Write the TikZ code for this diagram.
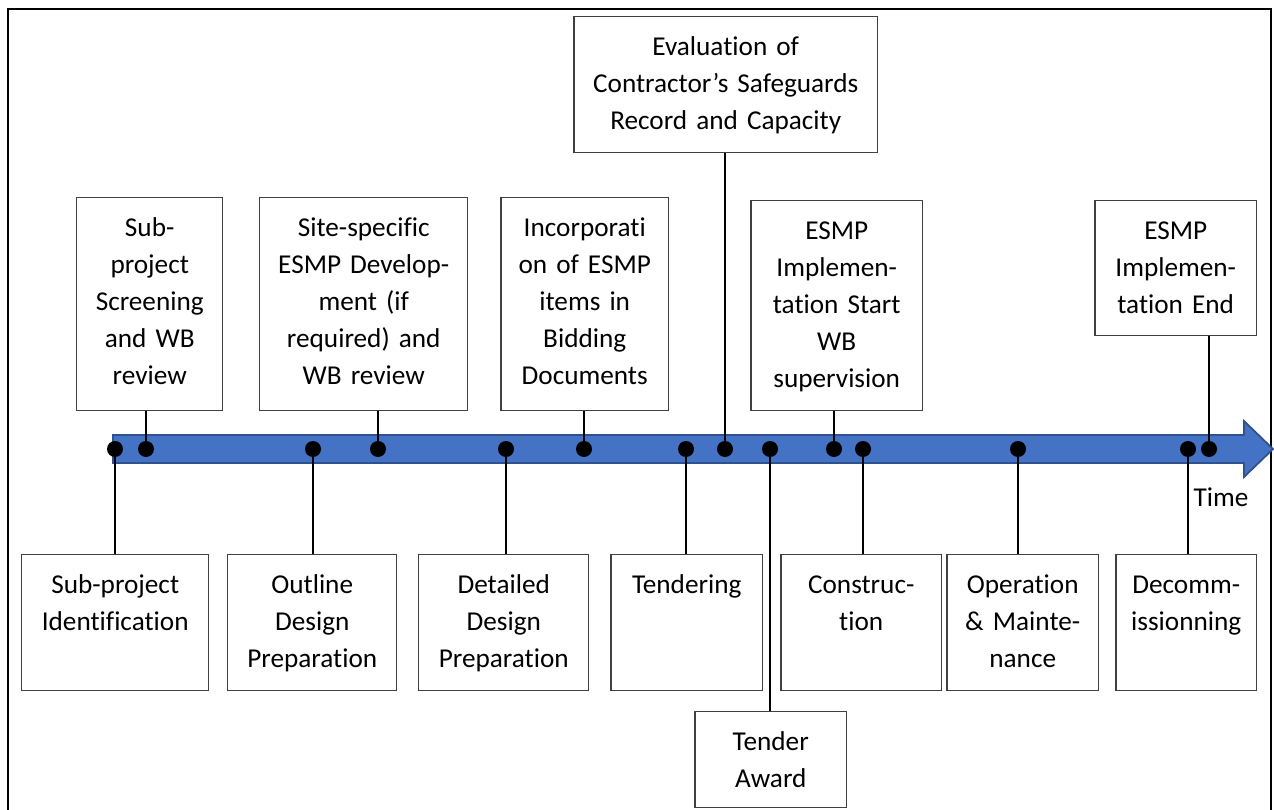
\documentclass[tikz,border=0pt]{standalone}
\usepackage{fontspec}
\setmainfont[Ligatures=NoCommon]{Carlito}
\usetikzlibrary{calc}
\definecolor{arrowblue}{HTML}{4472C4}
\definecolor{arrowedge}{HTML}{2F528F}
\definecolor{boxgray}{HTML}{404040}
\tikzset{
  stage/.style n args={2}{draw=boxgray, line width=0.85pt, anchor=north west,
    align=center, inner xsep=0pt, inner ysep=0pt, text width=#1cm,
    text height=0.78cm, text depth=#2cm,
    font=\fontsize{15.5}{21}\selectfont},
  dot/.style={circle, fill=black, inner sep=0pt, minimum size=0.32cm},
  link/.style={line width=0.75pt}
}
\begin{document}
\begin{tikzpicture}[x=0.02cm, y=-0.02cm]
      \useasboundingbox (0,0) rectangle (1274,810);

      % frame
      \draw[line width=1.4pt] (8,810) -- (8,9) -- (1271,9) -- (1271,810);

      % time axis
      \filldraw[fill=arrowblue, draw=arrowedge, line width=1pt]
        (113,435) -- (1244,435) -- (1244,421) -- (1273,449)
        -- (1244,477) -- (1244,463) -- (113,463) -- cycle;
      \node[font=\fontsize{15.5}{21}\selectfont] (time) at (1221,497) {Time};

      % stages above the axis
      \node[stage={2.92}{3.48}] (scr) at (76,197) {Sub-\\project\\Screening\\and WB\\review};
      \node[stage={4.16}{3.48}] (site) at (259,197) {Site-specific\\ESMP Develop-\\ment (if\\required) and\\WB review};
      \node[stage={3.36}{3.48}] (inc) at (500,197) {Incorporati\\on of ESMP\\items in\\Bidding\\Documents};
      \node[stage={6.08}{1.94}] (eval) at (573,16) {Evaluation of\\Contractor’s Safeguards\\Record and Capacity};
      \node[stage={3.44}{3.42}] (start) at (750,200) {ESMP\\Implemen-\\tation Start\\WB\\supervision};
      \node[stage={3.24}{1.92}] (end) at (1094,200) {ESMP\\Implemen-\\tation End};

      % stages below the axis
      \node[stage={3.74}{1.94}] (ident) at (21,554) {Sub-project\\Identification};
      \node[stage={3.38}{1.94}] (outl) at (227,554) {Outline\\Design\\Preparation};
      \node[stage={3.40}{1.94}] (det) at (418,554) {Detailed\\Design\\Preparation};
      \node[stage={3.04}{1.94}] (tend) at (610,554) {Tendering};
      \node[stage={3.22}{1.94}] (cons) at (780,554) {Construc-\\tion};
      \node[stage={3.04}{1.94}] (oper) at (946,554) {Operation\\\& Mainte-\\nance};
      \node[stage={2.82}{1.94}] (dec) at (1115,554) {Decomm-\\issionning};
      \node[stage={3.04}{1.14}] (award) at (694,711) {Tender\\Award};

      % milestones on the axis
      \foreach \n/\x in {1/115, 2/146, 3/313, 4/378, 5/506, 6/584, 7/686,
                         8/725, 9/770, 10/834, 11/863, 12/1018, 13/1188, 14/1209} {
          \node[dot] (d\n) at (\x,449) {};
          }

      % links
      \draw[link] (d1) -- (d1 |- ident.north);
      \draw[link] (d2) -- (d2 |- scr.south);
      \draw[link] (d3) -- (d3 |- outl.north);
      \draw[link] (d4) -- (d4 |- site.south);
      \draw[link] (d5) -- (d5 |- det.north);
      \draw[link] (d6) -- (d6 |- inc.south);
      \draw[link] (d7) -- (d7 |- tend.north);
      \draw[link] (d8) -- (d8 |- eval.south);
      \draw[link] (d9) -- (d9 |- award.north);
      \draw[link] (d10) -- (d10 |- start.south);
      \draw[link] (d11) -- (d11 |- cons.north);
      \draw[link] (d12) -- (d12 |- oper.north);
      \draw[link] (d13) -- (d13 |- dec.north);
      \draw[link] (d14) -- (d14 |- end.south);
\end{tikzpicture}
\end{document}
